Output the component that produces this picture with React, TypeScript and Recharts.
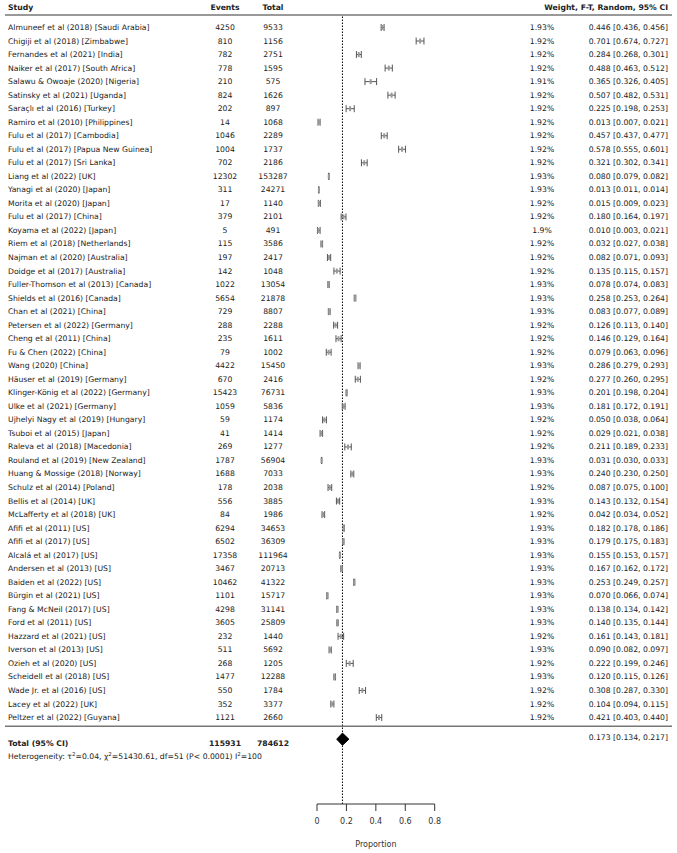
import {
  ComposedChart,
  Scatter,
  XAxis,
  YAxis,
  ErrorBar,
  ReferenceLine,
} from "recharts";

const studies = [
  "Almuneef et al (2018) [Saudi Arabia]",
  "Chigiji et al (2018) [Zimbabwe]",
  "Fernandes et al (2021) [India]",
  "Naiker et al (2017) [South Africa]",
  "Salawu & Owoaje (2020) [Nigeria]",
  "Satinsky et al (2021) [Uganda]",
  "Saraçlı et al (2016) [Turkey]",
  "Ramiro et al (2010) [Philippines]",
  "Fulu et al (2017) [Cambodia]",
  "Fulu et al (2017) [Papua New Guinea]",
  "Fulu et al (2017) [Sri Lanka]",
  "Liang et al (2022) [UK]",
  "Yanagi et al (2020) [Japan]",
  "Morita et al (2020) [Japan]",
  "Fulu et al (2017) [China]",
  "Koyama et al (2022) [Japan]",
  "Riem et al (2018) [Netherlands]",
  "Najman et al (2020) [Australia]",
  "Doidge et al (2017) [Australia]",
  "Fuller-Thomson et al (2013) [Canada]",
  "Shields et al (2016) [Canada]",
  "Chan et al (2021) [China]",
  "Petersen et al (2022) [Germany]",
  "Cheng et al (2011) [China]",
  "Fu & Chen (2022) [China]",
  "Wang (2020) [China]",
  "Häuser et al (2019) [Germany]",
  "Klinger-König et al (2022) [Germany]",
  "Ulke et al (2021) [Germany]",
  "Ujhelyi Nagy et al (2019) [Hungary]",
  "Tsuboi et al (2015) [Japan]",
  "Raleva et al (2018) [Macedonia]",
  "Rouland et al (2019) [New Zealand]",
  "Huang & Mossige (2018) [Norway]",
  "Schulz et al (2014) [Poland]",
  "Bellis et al (2014) [UK]",
  "McLafferty et al (2018) [UK]",
  "Afifi et al (2011) [US]",
  "Afifi et al (2017) [US]",
  "Alcalá et al (2017) [US]",
  "Andersen et al (2013) [US]",
  "Baiden et al (2022) [US]",
  "Bürgin et al (2021) [US]",
  "Fang & McNeil (2017) [US]",
  "Ford et al (2011) [US]",
  "Hazzard et al (2021) [US]",
  "Iverson et al (2013) [US]",
  "Ozieh et al (2020) [US]",
  "Scheidell et al (2018) [US]",
  "Wade Jr. et al (2016) [US]",
  "Lacey et al (2022) [UK]",
  "Peltzer et al (2022) [Guyana]",
];

const events = [
  4250, 810, 782, 778, 210, 824, 202, 14, 1046, 1004, 702, 12302, 311, 17, 379,
  5, 115, 197, 142, 1022, 5654, 729, 288, 235, 79, 4422, 670, 15423, 1059, 59,
  41, 269, 1787, 1688, 178, 556, 84, 6294, 6502, 17358, 3467, 10462, 1101, 4298,
  3605, 232, 511, 268, 1477, 550, 352, 1121,
];

const totals = [
  9533, 1156, 2751, 1595, 575, 1626, 897, 1068, 2289, 1737, 2186, 153287, 24271,
  1140, 2101, 491, 3586, 2417, 1048, 13054, 21878, 8807, 2288, 1611, 1002, 15450,
  2416, 76731, 5836, 1174, 1414, 1277, 56904, 7033, 2038, 3885, 1986, 34653,
  36309, 111964, 20713, 41322, 15717, 31141, 25809, 1440, 5692, 1205, 12288,
  1784, 3377, 2660,
];

const weights = [
  "1.93%", "1.92%", "1.92%", "1.92%", "1.91%", "1.92%", "1.92%", "1.92%",
  "1.92%", "1.92%", "1.92%", "1.93%", "1.93%", "1.92%", "1.92%", "1.9%",
  "1.92%", "1.92%", "1.92%", "1.93%", "1.93%", "1.93%", "1.92%", "1.92%",
  "1.92%", "1.93%", "1.92%", "1.93%", "1.93%", "1.92%", "1.92%", "1.92%",
  "1.93%", "1.93%", "1.92%", "1.93%", "1.92%", "1.93%", "1.93%", "1.93%",
  "1.93%", "1.93%", "1.93%", "1.93%", "1.93%", "1.92%", "1.93%", "1.92%",
  "1.93%", "1.92%", "1.92%", "1.92%",
];

const estimates = [
  0.446, 0.701, 0.284, 0.488, 0.365, 0.507, 0.225, 0.013, 0.457, 0.578, 0.321,
  0.08, 0.013, 0.015, 0.18, 0.01, 0.032, 0.082, 0.135, 0.078, 0.258, 0.083,
  0.126, 0.146, 0.079, 0.286, 0.277, 0.201, 0.181, 0.05, 0.029, 0.211, 0.031,
  0.24, 0.087, 0.143, 0.042, 0.182, 0.179, 0.155, 0.167, 0.253, 0.07, 0.138,
  0.14, 0.161, 0.09, 0.222, 0.12, 0.308, 0.104, 0.421,
];

const lower = [
  0.436, 0.674, 0.268, 0.463, 0.326, 0.482, 0.198, 0.007, 0.437, 0.555, 0.302,
  0.079, 0.011, 0.009, 0.164, 0.003, 0.027, 0.071, 0.115, 0.074, 0.253, 0.077,
  0.113, 0.129, 0.063, 0.279, 0.26, 0.198, 0.172, 0.038, 0.021, 0.189, 0.03,
  0.23, 0.075, 0.132, 0.034, 0.178, 0.175, 0.153, 0.162, 0.249, 0.066, 0.134,
  0.135, 0.143, 0.082, 0.199, 0.115, 0.287, 0.094, 0.403,
];

const upper = [
  0.456, 0.727, 0.301, 0.512, 0.405, 0.531, 0.253, 0.021, 0.477, 0.601, 0.341,
  0.082, 0.014, 0.023, 0.197, 0.021, 0.038, 0.093, 0.157, 0.083, 0.264, 0.089,
  0.14, 0.164, 0.096, 0.293, 0.295, 0.204, 0.191, 0.064, 0.038, 0.233, 0.033,
  0.25, 0.1, 0.154, 0.052, 0.186, 0.183, 0.157, 0.172, 0.257, 0.074, 0.142,
  0.144, 0.181, 0.097, 0.246, 0.126, 0.33, 0.115, 0.44,
];

// pooled random-effects result: [estimate, lower, upper]
const pooled = [0.173, 0.134, 0.217];
const pooledCounts = [115931, 784612];
const xTicks = [0, 0.2, 0.4, 0.6, 0.8];

// layout
const W = 677;
const H = 853;
const PLOT_TOP = 15;
const AXIS_Y = 804;
const ROW_TOP = 27.5;
const ROW_STEP = 13.53;
const X0 = 317;
const X1 = 434.7;
const COL_NAME = 8;
const COL_EVENTS = 225;
const COL_TOTAL = 273;
const COL_WEIGHT = 542;
const COL_CI = 668;
const FONT = "'DejaVu Sans', sans-serif";
const FS = 7.7;
const TEXT = "#222";
const DIAMOND_HALF = 0.45; // in row units

const fmt = (v: number) => v.toFixed(3);

const rows = studies.map((name, i) => ({
  name,
  events: events[i],
  total: totals[i],
  weight: weights[i],
  est: estimates[i],
  row: i,
  err: [estimates[i] - lower[i], upper[i] - estimates[i]],
  ci: `${fmt(estimates[i])} [${fmt(lower[i])}, ${fmt(upper[i])}]`,
}));

const totalRow = studies.length + 0.6;
const totalData = [{ est: pooled[0], row: totalRow }];
const diamondData = [
  { est: pooled[1], row: totalRow },
  { est: pooled[0], row: totalRow - DIAMOND_HALF },
  { est: pooled[2], row: totalRow },
  { est: pooled[0], row: totalRow + DIAMOND_HALF },
];

const yDomain = [
  (PLOT_TOP - ROW_TOP) / ROW_STEP,
  (AXIS_Y - ROW_TOP) / ROW_STEP,
];

const txt = {
  fontFamily: FONT,
  fontSize: FS,
  fill: TEXT,
};

const StudyRow = (props: any) => {
  const { cx, cy, payload } = props;
  return (
    <g>
      <rect x={cx - 1} y={cy - 2.5} width={2} height={5} fill="#999" />
      <text {...txt} x={COL_NAME} y={cy} dominantBaseline="central">
        {payload.name}
      </text>
      <text {...txt} x={COL_EVENTS} y={cy} textAnchor="middle" dominantBaseline="central">
        {payload.events}
      </text>
      <text {...txt} x={COL_TOTAL} y={cy} textAnchor="middle" dominantBaseline="central">
        {payload.total}
      </text>
      <text {...txt} x={COL_WEIGHT} y={cy} textAnchor="middle" dominantBaseline="central">
        {payload.weight}
      </text>
      <text {...txt} x={COL_CI} y={cy} textAnchor="end" dominantBaseline="central">
        {payload.ci}
      </text>
    </g>
  );
};

const TotalRow = (props: any) => {
  const { cy } = props;
  const sup = { dy: -3, fontSize: 5.5 };
  return (
    <g>
      <line x1={5} x2={672} y1={cy - 13} y2={cy - 13} stroke="#777" strokeWidth={1.5} />
      <text {...txt} fontWeight="bold" x={COL_NAME} y={cy + 4} dominantBaseline="central">
        Total (95% CI)
      </text>
      <text {...txt} fontWeight="bold" x={COL_EVENTS} y={cy + 4} textAnchor="middle" dominantBaseline="central">
        {pooledCounts[0]}
      </text>
      <text {...txt} fontWeight="bold" x={COL_TOTAL} y={cy + 4} textAnchor="middle" dominantBaseline="central">
        {pooledCounts[1]}
      </text>
      <text {...txt} x={COL_CI} y={cy - 2} textAnchor="end" dominantBaseline="central">
        {`${fmt(pooled[0])} [${fmt(pooled[1])}, ${fmt(pooled[2])}]`}
      </text>
      <text {...txt} x={COL_NAME} y={cy + 20}>
        Heterogeneity: τ<tspan {...sup}>2</tspan>
        <tspan dy={3}>=0.04, χ</tspan>
        <tspan {...sup}>2</tspan>
        <tspan dy={3}>=51430.61, df=51 (P&lt; 0.0001) I</tspan>
        <tspan {...sup}>2</tspan>
        <tspan dy={3}>=100</tspan>
      </text>
    </g>
  );
};

const App = () => {
  return (
    <div style={{ position: "absolute", left: 0, top: 0, width: W, height: H, background: "#fff" }}>
      <ComposedChart
        width={W}
        height={H}
        margin={{ top: PLOT_TOP, right: W - X1, bottom: 0, left: X0 }}
      >
        <XAxis
          type="number"
          dataKey="est"
          domain={[0, 0.8]}
          ticks={xTicks}
          height={H - AXIS_Y}
          tickSize={7}
          tickMargin={7}
          stroke="#333"
          tick={{ fontSize: 8, fontFamily: FONT, fill: "#333" }}
          label={{
            value: "Proportion",
            position: "insideBottom",
            offset: 6,
            style: { fontSize: 8, fontFamily: FONT, fill: "#333" },
          }}
        />
        <YAxis
          type="number"
          dataKey="row"
          domain={yDomain}
          reversed
          hide
          width={0}
        />
        <ReferenceLine x={pooled[0]} stroke="#000" strokeDasharray="1.5 1.5" />
        <Scatter data={rows} shape={StudyRow} isAnimationActive={false}>
          <ErrorBar dataKey="err" direction="x" width={3.5} stroke="#555" strokeWidth={1} isAnimationActive={false} />
        </Scatter>
        <Scatter
          data={diamondData}
          shape={() => <g />}
          line={{ fill: "#000", stroke: "#000", strokeWidth: 1 }}
          lineType="joint"
          lineJointType="linearClosed"
          isAnimationActive={false}
        />
        <Scatter data={totalData} shape={TotalRow} isAnimationActive={false} />
      </ComposedChart>
      <svg
        width={W}
        height={30}
        style={{ position: "absolute", left: 0, top: 0, pointerEvents: "none" }}
      >
        <text {...txt} fontWeight="bold" x={COL_NAME} y={7} dominantBaseline="central">
          Study
        </text>
        <text {...txt} fontWeight="bold" x={COL_EVENTS} y={7} textAnchor="middle" dominantBaseline="central">
          Events
        </text>
        <text {...txt} fontWeight="bold" x={COL_TOTAL} y={7} textAnchor="middle" dominantBaseline="central">
          Total
        </text>
        <text {...txt} fontWeight="bold" x={COL_CI} y={7} textAnchor="end" dominantBaseline="central">
          Weight, F-T, Random, 95% CI
        </text>
        <line x1={5} x2={672} y1={PLOT_TOP} y2={PLOT_TOP} stroke="#777" strokeWidth={1.5} />
      </svg>
    </div>
  );
};

export default App;
